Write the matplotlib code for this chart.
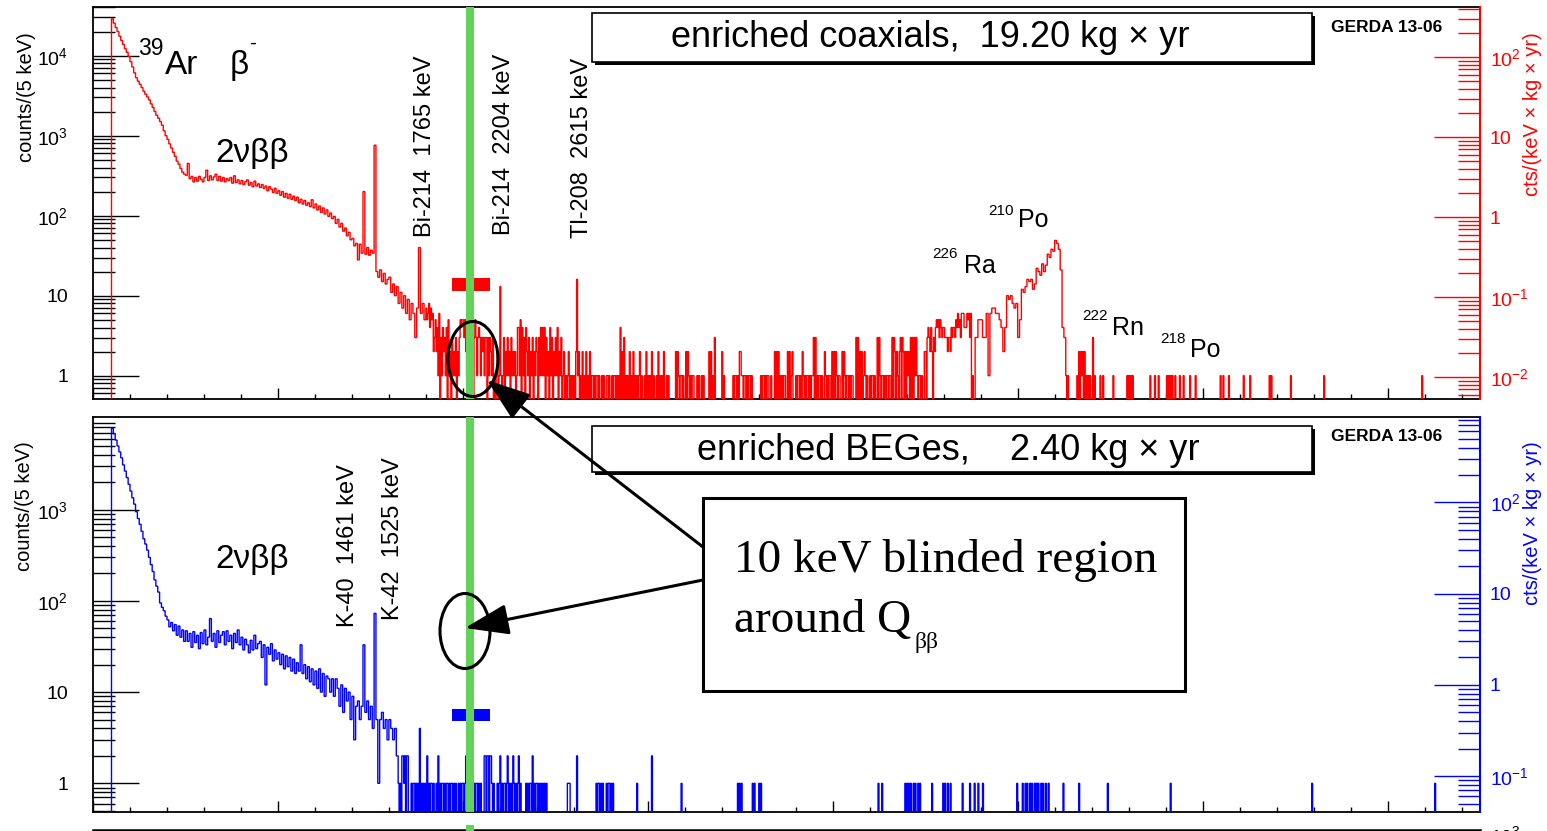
import numpy as np
import matplotlib
matplotlib.use("Agg")
import matplotlib.pyplot as plt
from matplotlib.patches import Ellipse, Rectangle, FancyArrowPatch, ArrowStyle
from matplotlib.lines import Line2D
from matplotlib.ticker import FixedLocator, FixedFormatter, LogLocator, NullFormatter, MultipleLocator

plt.rcParams["font.family"] = ["Liberation Sans", "DejaVu Sans"]
plt.rcParams["mathtext.fontset"] = "custom"
plt.rcParams["mathtext.rm"] = "Liberation Sans"
plt.rcParams["mathtext.it"] = "Liberation Sans:italic"
plt.rcParams["mathtext.bf"] = "Liberation Sans:bold"

# ------------------------------------------------------------------ data
E_RANGE = (0, 7500)
Q_BB = 2039
coax_exposure = 19.20
bege_exposure = 2.40
bin_keV = 5

# enriched coaxials: continuum, 10 keV bins from 100 keV
coax_cont_start = 100
coax_cont = [
    29000, 25500, 22500, 20000, 17500, 15500, 13800, 12200, 11000, 9800,
    8400, 7200, 6100, 5300, 4800, 4400, 4000, 3600, 3300, 3050,
    2800, 2500, 2250, 2000, 1800, 1650, 1500, 1350, 1150, 1000,
    900, 790, 700, 620, 550, 480, 440, 390, 350, 330,
    320, 450, 290, 310, 265, 300, 270, 310, 285, 265,
    300, 370, 275, 315, 280, 305, 330, 275, 310, 270,
    300, 265, 290, 275, 300, 255, 315, 260, 280, 250,
    275, 245, 265, 280, 240, 260, 230, 270, 235, 250,
    225, 245, 220, 235, 205, 230, 215, 195, 220, 190,
    205, 180, 200, 170, 190, 165, 185, 160, 175, 155,
    170, 145, 160, 140, 155, 135, 145, 130, 158, 125,
    140, 118, 132, 110, 125, 105, 118, 98, 108, 92,
    98, 80, 90, 72, 80, 64, 70, 56, 62, 50,
    52, 42, 45, 28, 44, 34, 200, 33, 40, 32,
    37, 34, 760, 20, 17, 21, 15, 19, 14, 16,
    17, 11, 14, 10, 13, 8, 11, 7, 10, 6,
    9, 5, 8, 6, 3, 7, 40, 6, 8, 5,
]
# coaxials 1800-4800 keV, 5 keV bins, one row of 20 bins per 100 keV
coax_sparse_start = 1800
coax_sparse_rows = [
    "75684756235241603142", "31405120312130213545", "53521312312035313431",
    "32313303132130101201", "01013021312031212014", "41504130421302130213",
    "20314141403120413021", "31402130120101201010", "10201201020102010201",
    "10101101001010011010", "01011010104020301010", "20102010101201001020",
    "10102010010201010200", "10100000002021011010", "02021010110001010010",
    "10000020201030000000", "20100000000010110102", "21101101011010000000",
    "00101101011001000202", "02010101100202012000", "10110102101011010113",
    "03010110100210101102", "02021011002021011010", "11000303020201210100",
    "10110100303101101011", "01103032021023032020", "21203030313101101002",
    "20343242032454535434", "43332332434435464536", "66444656360100333555",
]
coax_sparse_peaks = [(2200, 13), (2615, 16)]
# 210Po alpha peak, 10 keV bins 4800-5260 keV
coax_alpha_start = 4800
coax_alpha = [
    5, 3, 3, 6, 1, 6, 7, 7, 6, 6,
    5, 4, 2, 4, 10, 9, 10, 8, 7, 8,
    3, 5, 12, 11, 13, 16, 15, 16, 12, 14,
    22, 20, 18, 25, 20, 24, 33, 30, 38, 36,
    49, 45, 38, 21, 4, 3,
]
coax_tail_start = 5260
coax_tail_events = [
    (5260, 1), (5270, 1), (5320, 1), (5330, 2), (5340, 2), (5345, 1), (5350, 2),
    (5360, 2), (5370, 1), (5380, 1), (5390, 1), (5405, 3), (5415, 1), (5445, 1),
    (5460, 1), (5515, 1), (5590, 1), (5600, 1), (5610, 1), (5620, 1), (5715, 1),
    (5740, 1), (5760, 1), (5805, 1), (5815, 1), (5825, 1), (5835, 1), (5850, 1),
    (5875, 1), (5895, 1), (5930, 1), (5960, 1), (6095, 1), (6110, 1), (6140, 1),
    (6220, 1), (6255, 1), (6360, 1), (6370, 1), (6475, 1), (6655, 1), (7185, 1),
]

# enriched BEGes: continuum, 10 keV bins from 100 keV
bege_cont_start = 100
bege_cont = [
    7800, 6800, 5800, 5000, 4300, 3700, 3100, 2650, 2250, 1900,
    1600, 1350, 1150, 950, 800, 690, 580, 480, 420, 360,
    300, 250, 210, 170, 145, 125, 95, 85, 78, 68,
    62, 52, 58, 47, 55, 42, 53, 40, 48, 36,
    47, 36, 44, 31, 46, 35, 42, 30, 45, 34,
    48, 33, 40, 64, 36, 44, 31, 47, 35, 42,
    46, 33, 47, 36, 42, 30, 44, 35, 48, 33,
    40, 29, 38, 33, 27, 37, 29, 42, 30, 34,
    36, 24, 33, 12, 31, 26, 34, 22, 29, 23,
    27, 20, 26, 18, 25, 19, 24, 17, 23, 16,
    21, 17, 33, 16, 20, 14, 19, 13, 18, 12,
    17, 11, 18, 10, 16, 9, 15, 14, 10, 14,
    9, 14, 11, 7, 12, 6, 11, 8, 10, 5,
    9, 3, 7, 8, 5, 7, 33, 6, 8, 5,
    7, 4, 73, 5, 1, 5, 6, 4, 5, 3,
    5, 4, 3, 4, 2,
]
bege_sparse_start = 1650
bege_sparse_rows = [
    "10102212022000101101", "01040101010201011010", "01020101101011010110",
    "10100101011012010101", "00101101010002202202", "21010001012010110120",
    "10102101012010000010", "10110201011010101010", "10000000000000000000",
    "00011100000002000000", "00000000000000101101", "01000101101010000000",
]
bege_tail_start = 2850
bege_tail_events = [
    (2940, 1), (3020, 2), (3180, 1), (3485, 1), (3495, 1), (3505, 1), (3565, 1),
    (3575, 1), (3600, 1), (3610, 1), (4245, 1), (4265, 1), (4390, 1), (4400, 1),
    (4410, 1), (4420, 1), (4435, 1), (4445, 1), (4460, 1), (4470, 1), (4535, 1),
    (4595, 1), (4605, 1), (4620, 1), (4635, 1), (4700, 1), (4740, 1), (4765, 1),
    (4785, 1), (4810, 1), (4995, 1), (5025, 1), (5040, 1), (5050, 1), (5065, 1),
    (5075, 1), (5090, 1), (5100, 1), (5110, 1), (5125, 1), (5135, 1), (5150, 1),
    (5165, 1), (5245, 1), (5330, 1), (5485, 1), (5825, 1), (6590, 1), (7255, 1),
]

# blinded-window markers
blind_bar_E = [1940, 2145]
coax_bar_counts = [11.5, 16.5]
bege_bar_counts = [4.8, 6.5]

coax_ylim = (0.511, 4.0e4)
bege_ylim = (0.485, 1.03e4)

# ------------------------------------------------------------------ helpers
W, H = 1547, 831
fig = plt.figure(figsize=(W / 100, H / 100), dpi=100)
fig.patch.set_facecolor("white")


def P(x, y):
    return (x / W, 1 - y / H)


def ftext(x, y, s, **kw):
    return fig.text(x / W, 1 - y / H, s, **kw)


def coarse(start, width, values):
    v = np.asarray(values, float)
    return start + width * np.arange(len(v) + 1), v


def fine(start, stop, rows=(), events=(), peaks=()):
    n = int(round((stop - start) / 5))
    v = np.zeros(n)
    for i, row in enumerate(rows):
        for j, ch in enumerate(row):
            k = i * 20 + j
            if k < n:
                v[k] = int(ch)
    for e, c in list(events) + list(peaks):
        k = int((e - start) // 5)
        if 0 <= k < n:
            v[k] = c
    return start + 5 * np.arange(n + 1), v


def join(*segs):
    edges = [segs[0][0]]
    vals = [segs[0][1]]
    for e, v in segs[1:]:
        edges.append(e[1:])
        vals.append(v)
    return np.concatenate(edges), np.concatenate(vals)


coax_edges, coax_vals = join(
    coarse(coax_cont_start, 10, coax_cont),
    fine(coax_sparse_start, coax_alpha_start, rows=coax_sparse_rows, peaks=coax_sparse_peaks),
    coarse(coax_alpha_start, 10, coax_alpha),
    fine(coax_tail_start, E_RANGE[1], events=coax_tail_events),
)
bege_edges, bege_vals = join(
    coarse(bege_cont_start, 10, bege_cont),
    fine(bege_sparse_start, bege_tail_start, rows=bege_sparse_rows),
    fine(bege_tail_start, E_RANGE[1], events=bege_tail_events),
)

FLOOR = 1e-3


def sup10(k):
    if k == 0:
        return "1"
    if k == 1:
        return "10"
    return r"$\mathregular{10^{%d}}$" % k


def setup(ax, ylim, conv, rcolor):
    ax.set_xlim(*E_RANGE)
    ax.set_yscale("log")
    ax.set_ylim(*ylim)
    ax.xaxis.set_major_locator(MultipleLocator(1000))
    ax.xaxis.set_minor_locator(MultipleLocator(200))
    ax.tick_params(axis="x", which="major", direction="in", length=7.8, width=1.0,
                   labelbottom=False, top=False, bottom=True)
    ax.tick_params(axis="x", which="minor", direction="in", length=3.6, width=1.0,
                   top=False, bottom=True)
    decs = [k for k in range(-3, 6) if ylim[0] <= 10.0 ** k < ylim[1] * 0.97]
    ax.yaxis.set_major_locator(FixedLocator([10.0 ** k for k in decs]))
    ax.yaxis.set_major_formatter(FixedFormatter([sup10(k) for k in decs]))
    ax.yaxis.set_minor_locator(LogLocator(base=10, subs=np.arange(2, 10), numticks=100))
    ax.yaxis.set_minor_formatter(NullFormatter())
    ax.tick_params(axis="y", which="major", direction="in", length=33, width=1.0,
                   pad=18, labelsize=14, right=False)
    ax.tick_params(axis="y", which="minor", direction="in", length=16, width=1.0, right=False)
    for s in ax.spines.values():
        s.set_linewidth(1.3)
    ax.spines["right"].set_visible(False)

    axr = ax.twinx()
    axr.set_yscale("log")
    rl = (ylim[0] / conv, ylim[1] / conv)
    axr.set_ylim(*rl)
    rdecs = [k for k in range(-4, 5) if rl[0] <= 10.0 ** k < rl[1]]
    axr.yaxis.set_major_locator(FixedLocator([10.0 ** k for k in rdecs]))
    axr.yaxis.set_major_formatter(FixedFormatter([sup10(k) for k in rdecs]))
    axr.yaxis.set_minor_locator(LogLocator(base=10, subs=np.arange(2, 10), numticks=100))
    axr.yaxis.set_minor_formatter(NullFormatter())
    axr.tick_params(axis="y", which="major", direction="in", length=33, width=1.0,
                    pad=7, labelsize=14, colors=rcolor)
    axr.tick_params(axis="y", which="minor", direction="in", length=16, width=1.0, colors=rcolor)
    for k in ("left", "top", "bottom"):
        axr.spines[k].set_visible(False)
    axr.spines["right"].set_color(rcolor)
    axr.spines["right"].set_linewidth(1.5)
    return axr


def draw_hist(ax, edges, vals, color):
    v = np.where(vals > 0, vals, FLOOR)
    ax.stairs(v, edges, baseline=FLOOR, color=color, lw=1.0, zorder=3)


GREEN = "#63d25a"

# ------------------------------------------------------------------ top panel
ax1 = fig.add_axes([93 / W, 1 - 399 / H, (1480 - 93) / W, (399 - 7.5) / H])
draw_hist(ax1, coax_edges, coax_vals, "red")
ax1.fill_between(blind_bar_E, coax_bar_counts[0], coax_bar_counts[1], color="red", lw=0, zorder=4)
ax1.axvline(Q_BB, color=GREEN, lw=5.8, zorder=5)
setup(ax1, coax_ylim, bin_keV * coax_exposure, "red")

# ------------------------------------------------------------------ bottom panel
ax2 = fig.add_axes([93 / W, 1 - 812 / H, (1480 - 93) / W, (812 - 417.3) / H])
draw_hist(ax2, bege_edges, bege_vals, "blue")
ax2.fill_between(blind_bar_E, bege_bar_counts[0], bege_bar_counts[1], color="blue", lw=0, zorder=4)
ax2.axvline(Q_BB, color=GREEN, lw=5.8, zorder=5)
setup(ax2, bege_ylim, bin_keV * bege_exposure, "blue")

# third (cut-off) panel at the bottom edge
fig.add_artist(Line2D([93 / W, 1480 / W], [1 - 830 / H, 1 - 830 / H], color="black", lw=1.8))
fig.add_artist(Line2D([470 / W, 470 / W], [1 - 829 / H, 0], color=GREEN, lw=5.8))
ftext(1490, 836, sup10(3), fontsize=14, ha="left", va="center")

# ------------------------------------------------------------------ axis titles
ftext(26, 97, "counts/(5 keV)", rotation=90, fontsize=14.5, ha="center", va="center")
ftext(25, 506, "counts/(5 keV)", rotation=90, fontsize=14.5, ha="center", va="center")
ftext(1533, 114, "cts/(keV × kg × yr)", rotation=90, fontsize=14.5, ha="center",
      va="center", color="red")
ftext(1533, 523, "cts/(keV × kg × yr)", rotation=90, fontsize=14.5, ha="center",
      va="center", color="blue")

# ------------------------------------------------------------------ labels
def boxed(x0, y0, x1, y1, text, cx, base):
    fig.add_artist(Rectangle(P(x0 + 3, y1 + 3), (x1 - x0) / W, (y1 - y0) / H,
                             transform=fig.transFigure, facecolor="black", edgecolor="none", zorder=6))
    fig.add_artist(Rectangle(P(x0, y1), (x1 - x0) / W, (y1 - y0) / H,
                             transform=fig.transFigure, facecolor="white", edgecolor="black",
                             lw=1.2, zorder=7))
    ftext(cx, base, text, fontsize=26, ha="center", va="baseline", zorder=8)


boxed(592, 13.5, 1312, 61.5, "enriched coaxials,  19.20 kg × yr", 930, 47)
boxed(592, 426, 1312, 472, "enriched BEGes,    2.40 kg × yr", 948, 460)
ftext(1331, 27, "GERDA 13-06", fontsize=12.5, fontweight="bold", ha="left", va="center")
ftext(1331, 436.5, "GERDA 13-06", fontsize=12.5, fontweight="bold", ha="left", va="center")


def nuclide(xs, ys, sup, xm, ym, main, ssup, smain):
    ftext(xs, ys, sup, fontsize=ssup, ha="left", va="baseline")
    ftext(xm, ym, main, fontsize=smain, ha="left", va="baseline")


nuclide(138, 55, "39", 165, 74, "Ar", 16.5, 24)
ftext(230, 74, "β", fontsize=24, ha="left", va="baseline")
ftext(249, 49, "-", fontsize=15, ha="left", va="baseline")
ftext(215, 162, "2νββ", fontsize=24, ha="left", va="baseline")
ftext(215, 568, "2νββ", fontsize=24, ha="left", va="baseline")

nuclide(988, 215, "210", 1018, 227, "Po", 11, 18)
nuclide(932, 258, "226", 964, 273, "Ra", 11, 18)
nuclide(1082, 320, "222", 1112, 335, "Rn", 11, 18)
nuclide(1160, 343, "218", 1190, 357, "Po", 11, 18)

for cx, by, s in [(425, 237, "Bi-214  1765 keV"), (503.5, 235, "Bi-214  2204 keV"),
                  (582, 238, "Tl-208  2615 keV"), (347.5, 627, "K-40  1461 keV"),
                  (393, 620, "K-42  1525 keV")]:
    ftext(cx, by, s, rotation=90, fontsize=17, ha="center", va="bottom")

# ------------------------------------------------------------------ annotation
for (cx, cy) in [(473, 359), (465, 631)]:
    fig.add_artist(Ellipse(P(cx, cy), 50 / W, 75 / H, transform=fig.transFigure,
                           facecolor="none", edgecolor="black", lw=2.2, zorder=9))

fig.add_artist(Rectangle(P(703, 691), (1185 - 703) / W, (691 - 498) / H,
                         transform=fig.transFigure, facecolor="white", edgecolor="black",
                         lw=2.2, zorder=10))
ftext(734.5, 571.7, "10 keV blinded region", family="Liberation Serif", fontsize=34,
      ha="left", va="baseline", zorder=11)
ftext(734.5, 631.7, "around Q", family="Liberation Serif", fontsize=34,
      ha="left", va="baseline", zorder=11)
ftext(914, 648, "ββ", family="Liberation Serif", fontsize=17, ha="left", va="baseline", zorder=11)

astyle = ArrowStyle("-|>", head_length=2.7, head_width=0.95)
for (xa, ya, xb, yb) in [(703, 547, 487, 380), (703, 580, 465, 628)]:
    fig.add_artist(FancyArrowPatch(P(xa, ya), P(xb, yb), transform=fig.transFigure,
                                   arrowstyle=astyle, mutation_scale=10, lw=2.2,
                                   color="black", shrinkA=0, shrinkB=0, zorder=9))

fig.savefig("out.png", dpi=100, facecolor="white")
